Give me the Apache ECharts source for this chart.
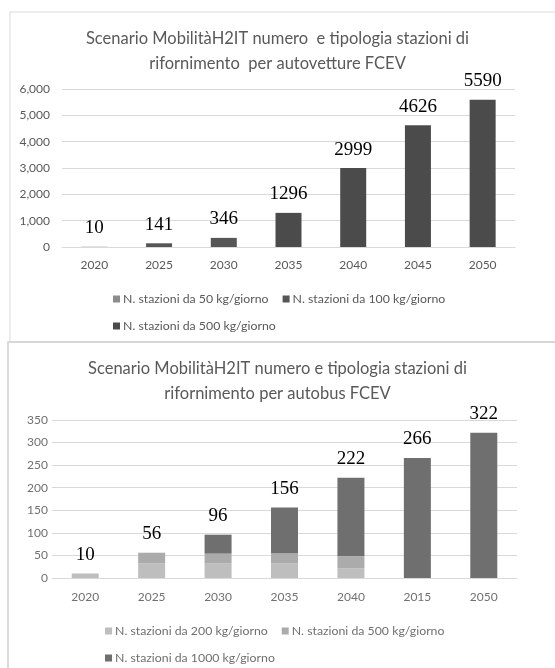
<!DOCTYPE html>
<html>
<head>
<meta charset="utf-8">
<script src="https://cdn.jsdelivr.net/npm/echarts@6/dist/echarts.min.js"></script>
<style>
  html, body { margin: 0; padding: 0; background: #fff; }
  #main { width: 555px; height: 668px; }
</style>
</head>
<body>
<div id="main"></div>
<script>
const years = ['2020', '2025', '2030', '2035', '2040', '2045', '2050']
const years2 = ['2020', '2025', '2030', '2035', '2040', '2015', '2050']

// autovetture
const car50 = [10, 0, 0, 0, 0, 0, 0]
const car100 = [0, 141, 346, 0, 0, 0, 0]
const car500 = [0, 0, 0, 1296, 2999, 4626, 5590]
const carTotals = [10, 141, 346, 1296, 2999, 4626, 5590]

// autobus
const bus200 = [10, 32, 32, 32, 21, 0, 0]
const bus500 = [0, 24, 22, 22, 27, 0, 0]
const bus1000 = [0, 0, 42, 102, 174, 266, 322]
const busTotals = [10, 56, 96, 156, 222, 266, 322]

const textColor = '#595959'
const titleFont = 'Lato, "Open Sans", sans-serif'

let myChart = echarts.init(document.getElementById('main'))

const totalLabel = (totals) => ({
  show: true,
  position: 'top',
  distance: 9,
  fontFamily: '"Liberation Serif", serif',
  fontSize: 19,
  color: '#000',
  formatter: p => totals[p.dataIndex]
})

let options = {
  animation: false,
  graphic: [
    { type: 'rect', shape: { x: 10, y: 12, width: 560, height: 330 }, style: { fill: 'none', stroke: '#d9d9d9', lineWidth: 1 } },
    { type: 'rect', shape: { x: 8, y: 342, width: 560, height: 340 }, style: { fill: 'none', stroke: '#d0d0d0', lineWidth: 1.5 } }
  ],
  title: [
    {
      text: 'Scenario MobilitàH2IT numero  e tipologia stazioni di\nrifornimento  per autovetture FCEV',
      left: 'center', top: 21,
      textStyle: { fontFamily: titleFont, fontWeight: 'normal', fontSize: 16.5, color: textColor, lineHeight: 25 }
    },
    {
      text: 'Scenario MobilitàH2IT numero e tipologia stazioni di\nrifornimento per autobus FCEV',
      left: 'center', top: 351,
      textStyle: { fontFamily: titleFont, fontWeight: 'normal', fontSize: 16.5, color: textColor, lineHeight: 25 }
    }
  ],
  legend: [
    {
      left: 108, top: 288, itemWidth: 7, itemHeight: 7, itemGap: 14, icon: 'rect',
      textStyle: { fontFamily: titleFont, fontSize: 12.3, color: textColor, padding: [0, 0, 0, -2] },
      data: ['N. stazioni da 50 kg/giorno', 'N. stazioni da 100 kg/giorno']
    },
    {
      left: 108, top: 315, itemWidth: 7, itemHeight: 7, icon: 'rect',
      textStyle: { fontFamily: titleFont, fontSize: 12.3, color: textColor, padding: [0, 0, 0, -2] },
      data: ['N. stazioni da 500 kg/giorno']
    },
    {
      left: 100, top: 620, itemWidth: 7, itemHeight: 7, itemGap: 14, icon: 'rect',
      textStyle: { fontFamily: titleFont, fontSize: 12.3, color: '#707070', padding: [0, 0, 0, -2] },
      data: ['N. stazioni da 200 kg/giorno', 'N. stazioni da 500 kg/giorno ']
    },
    {
      left: 100, top: 647, itemWidth: 7, itemHeight: 7, icon: 'rect',
      textStyle: { fontFamily: titleFont, fontSize: 12.3, color: '#707070', padding: [0, 0, 0, -2] },
      data: ['N. stazioni da 1000 kg/giorno']
    }
  ],
  grid: [
    { left: 62, right: 40, top: 89, height: 158 },
    { left: 52, right: 38, top: 420, height: 158 }
  ],
  xAxis: [
    {
      gridIndex: 0, type: 'category', data: years,
      axisTick: { show: false },
      axisLine: { lineStyle: { color: '#d9d9d9' } },
      axisLabel: { color: textColor, fontFamily: titleFont, fontSize: 12, margin: 12 }
    },
    {
      gridIndex: 1, type: 'category', data: years2,
      axisTick: { show: false },
      axisLine: { lineStyle: { color: '#d9d9d9' } },
      axisLabel: { color: '#707070', fontFamily: titleFont, fontSize: 12, margin: 13 }
    }
  ],
  yAxis: [
    {
      gridIndex: 0, type: 'value', min: 0, max: 6000, interval: 1000,
      splitLine: { lineStyle: { color: '#d9d9d9' } },
      axisLabel: { color: textColor, fontFamily: titleFont, fontSize: 12, margin: 12,
        formatter: v => v.toLocaleString('en-US') }
    },
    {
      gridIndex: 1, type: 'value', min: 0, max: 350, interval: 50,
      splitLine: { lineStyle: { color: '#d9d9d9' } },
      axisLabel: { color: '#707070', fontFamily: titleFont, fontSize: 12, margin: 4 }
    }
  ],
  series: [
    { name: 'N. stazioni da 50 kg/giorno', type: 'bar', stack: 'car', xAxisIndex: 0, yAxisIndex: 0,
      barWidth: 26, itemStyle: { color: '#8c8c8c' }, data: car50 },
    { name: 'N. stazioni da 100 kg/giorno', type: 'bar', stack: 'car', xAxisIndex: 0, yAxisIndex: 0,
      barWidth: 26, itemStyle: { color: '#565656' }, data: car100 },
    { name: 'N. stazioni da 500 kg/giorno', type: 'bar', stack: 'car', xAxisIndex: 0, yAxisIndex: 0,
      barWidth: 26, itemStyle: { color: '#4b4b4b' }, data: car500, label: totalLabel(carTotals) },
    { name: 'N. stazioni da 200 kg/giorno', type: 'bar', stack: 'bus', xAxisIndex: 1, yAxisIndex: 1,
      barWidth: 27, itemStyle: { color: '#bebebe' }, data: bus200 },
    { name: 'N. stazioni da 500 kg/giorno ', type: 'bar', stack: 'bus', xAxisIndex: 1, yAxisIndex: 1,
      barWidth: 27, itemStyle: { color: '#ababab' }, data: bus500 },
    { name: 'N. stazioni da 1000 kg/giorno', type: 'bar', stack: 'bus', xAxisIndex: 1, yAxisIndex: 1,
      barWidth: 27, itemStyle: { color: '#6f6f6f' }, data: bus1000, label: totalLabel(busTotals) }
  ]
}
myChart.setOption(options)
</script>
</body>
</html>
